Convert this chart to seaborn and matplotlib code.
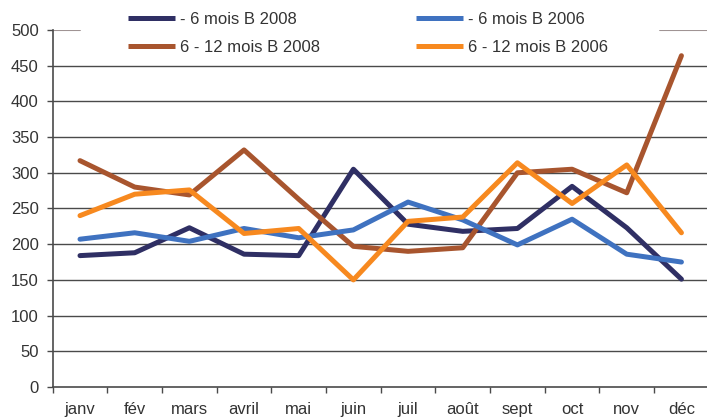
import matplotlib
matplotlib.use('Agg')
import matplotlib.pyplot as plt
import seaborn as sns
import pandas as pd
import numpy as np

# months and series values
mois = ['janv', 'fév', 'mars', 'avril', 'mai', 'juin',
        'juil', 'août', 'sept', 'oct', 'nov', 'déc']
moins6_2008 = [184, 188, 223, 186, 184, 305, 228, 218, 222, 281, 223, 151]
de6a12_2008 = [317, 280, 269, 332, 263, 197, 190, 195, 300, 305, 272, 464]
moins6_2006 = [207, 216, 204, 222, 209, 220, 259, 234, 199, 235, 186, 175]
de6a12_2006 = [240, 270, 276, 215, 222, 150, 232, 238, 314, 257, 311, 216]

series_names = ['- 6 mois B 2008', '6 - 12 mois B 2008',
                '- 6 mois B 2006', '6 - 12 mois B 2006']
colors = ['#2F2F64', '#A8552E', '#3F72C0', '#F7891F']

sns.set_style('white')
plt.rcParams['font.family'] = ['Liberation Sans', 'DejaVu Sans']

# long format table for seaborn
frames = []
for name, vals in zip(series_names, [moins6_2008, de6a12_2008, moins6_2006, de6a12_2006]):
    frames.append(pd.DataFrame({'mois': mois, 'valeur': vals, 'serie': name}))
df = pd.concat(frames, ignore_index=True)

fig = plt.figure(figsize=(7.07, 4.19), dpi=100)
ax = fig.add_axes([0.0745, 0.0764, 0.928, 0.852])

grid_col = '#4a4a4a'
for v in range(50, 500, 50):
    ax.axhline(v, color=grid_col, lw=1.0, zorder=1)
# top gridline only shows beside the legend
ax.axhline(500, xmin=0, xmax=0.042, color='#a09494', lw=1.5, zorder=1)
ax.axhline(500, xmin=0.926, xmax=1, color='#a09494', lw=1.5, zorder=1)

sns.lineplot(data=df, x='mois', y='valeur', hue='serie', hue_order=series_names,
             palette=colors, linewidth=3.6, sort=False, ax=ax, zorder=3)

ax.set_xlim(-0.5, 11.5)
ax.set_ylim(0, 500)
ax.set_xlabel('')
ax.set_ylabel('')

# boundaries between months get tick marks, month names sit at centers
ax.set_xticks(np.arange(-0.5, 11.0, 1.0))
ax.set_xticklabels([])
ax.set_xticks(np.arange(12), minor=True)
ax.set_xticklabels(mois, minor=True)
ax.tick_params(axis='x', which='major', direction='out', length=4, width=1, color=grid_col, bottom=True)
ax.tick_params(axis='x', which='minor', length=0, pad=11, labelsize=12, labelcolor='#333333')

ax.set_yticks(range(0, 501, 50))
ax.tick_params(axis='y', direction='out', length=4, width=1, color=grid_col, left=True,
               pad=6, labelsize=12, labelcolor='#333333')

for s in ['top', 'right']:
    ax.spines[s].set_visible(False)
for s in ['left', 'bottom']:
    ax.spines[s].set_color(grid_col)
    ax.spines[s].set_linewidth(1.2)

leg = ax.legend(ncol=2, loc='upper left', bbox_to_anchor=(128 / 707, 407.5 / 419),
                bbox_transform=fig.transFigure, frameon=False, fontsize=12,
                handlelength=2.8, handletextpad=0.3, columnspacing=5.8,
                labelspacing=0.8, borderpad=0, borderaxespad=0, labelcolor='#333333')
for h in leg.get_lines():
    h.set_solid_capstyle('butt')

fig.savefig('out.png', dpi=100)
